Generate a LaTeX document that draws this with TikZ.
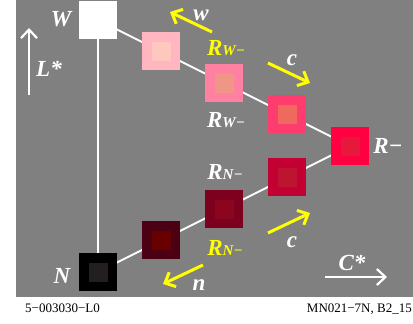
\documentclass[tikz,border=0pt]{standalone}
\usepackage{fontspec}
\setmainfont{Liberation Serif}
\usetikzlibrary{arrows.meta, backgrounds}
\definecolor{cBack}{RGB}{128,128,128}
\definecolor{cYel}{RGB}{255,255,0}
\definecolor{cWa}{RGB}{255,182,193}
\definecolor{cWai}{RGB}{255,200,190}
\definecolor{cWb}{RGB}{255,128,160}
\definecolor{cWbi}{RGB}{240,150,135}
\definecolor{cWc}{RGB}{255,60,110}
\definecolor{cWci}{RGB}{240,105,95}
\definecolor{cR}{RGB}{255,0,64}
\definecolor{cRi}{RGB}{230,25,60}
\definecolor{cNa}{RGB}{75,0,20}
\definecolor{cNai}{RGB}{105,0,0}
\definecolor{cNb}{RGB}{125,0,30}
\definecolor{cNbi}{RGB}{140,5,30}
\definecolor{cNc}{RGB}{195,0,50}
\definecolor{cNci}{RGB}{190,20,50}
\definecolor{cN}{RGB}{0,0,0}
\definecolor{cNi}{RGB}{35,30,32}
\newcommand{\subtag}[1]{{\fontsize{15}{15}\selectfont #1}}

\begin{document}
\begin{tikzpicture}[
  x=1pt, y=-1pt,
  >={Straight Barb[length=8.5pt, width=16pt]},
  patch/.style={minimum size=38pt, inner sep=0pt, outer sep=0pt, fill=#1},
  core/.style={minimum size=19pt, inner sep=0pt, fill=#1},
  toneline/.style={draw=white, line width=2pt},
  yarrow/.style={->, draw=cYel, line width=3pt},
  scalearr/.style={->, draw=white, line width=2.2pt},
  lab/.style={font=\fontsize{23}{23}\selectfont\bfseries\itshape,
              text=white, anchor=base, inner sep=0pt},
  note/.style={font=\fontsize{13}{13}\selectfont, inner sep=0pt},
]

\useasboundingbox (0,0) rectangle (413,324);
\begin{scope}[on background layer]
  \fill[cBack] (16,0) rectangle (413,297);
\end{scope}

% ---- colour patches ----------------------------------------------------
\foreach \n/\x/\y/\o/\i in {W/98/20/white/white, Wa/161/51/cWa/cWai,
    Wb/224/83/cWb/cWbi, Wc/287/114/cWc/cWci, Rm/350/146/cR/cRi,
    N/98/272/cN/cNi, Na/161/240/cNa/cNai, Nb/224/209/cNb/cNbi,
    Nc/287/177/cNc/cNci} {
  \node[patch=\o] (\n) at (\x,\y) {};
  \node[core=\i] at (\n) {};
}

% ---- tone lines behind the patches -------------------------------------
\begin{scope}[on background layer]
  \draw[toneline] (W.center) -- (Rm.center);
  \draw[toneline] (N.center) -- (Rm.center);
  \draw[toneline] (W.center) -- (N.center);
\end{scope}

% ---- yellow direction arrows -------------------------------------------
\coordinate (wTail) at (212,32);  \coordinate (wTip) at (170,12);
\coordinate (cuTail) at (268,63); \coordinate (cuTip) at (310,83);
\coordinate (clTail) at (268,233); \coordinate (clTip) at (310,213);
\coordinate (nTail) at (203,265); \coordinate (nTip) at (163,284);
\draw[yarrow] (wTail) -- (wTip);
\draw[yarrow] (cuTail) -- (cuTip);
\draw[yarrow] (clTail) -- (clTip);
\draw[yarrow] (nTail) -- (nTip);

% ---- axes ---------------------------------------------------------------
\coordinate (Lbot) at (29,95);  \coordinate (Ltop) at (29,28);
\coordinate (Cleft) at (325,277); \coordinate (Cright) at (387,277);
\draw[scalearr] (Lbot) -- (Ltop);
\draw[scalearr] (Cleft) -- (Cright);

% ---- labels -------------------------------------------------------------
\node[lab] (lW) at (61,27) {W};
\node[lab] (lL) at (49,76) {L*};
\node[lab] (lw) at (201,20) {w};
\node[lab, text=cYel] (lRWy) at (226,56) {R\subtag{W−}};
\node[lab] (lcu) at (292,65) {c};
\node[lab] (lRW) at (226,127) {R\subtag{W−}};
\node[lab] (lR) at (388,153) {R−};
\node[lab] (lRN) at (225,179) {R\subtag{N−}};
\node[lab, text=cYel] (lRNy) at (225,255) {R\subtag{N−}};
\node[lab] (lcl) at (292,247) {c};
\node[lab] (ln) at (199,290) {n};
\node[lab] (lN) at (62,283) {N};
\node[lab] (lC) at (352,270) {C*};

\node[note, anchor=base west] (code) at (25,312) {5−003030−L0};
\node[note, anchor=base east] (ref) at (412,312) {MN021−7N, B2\_15};

\end{tikzpicture}
\end{document}
